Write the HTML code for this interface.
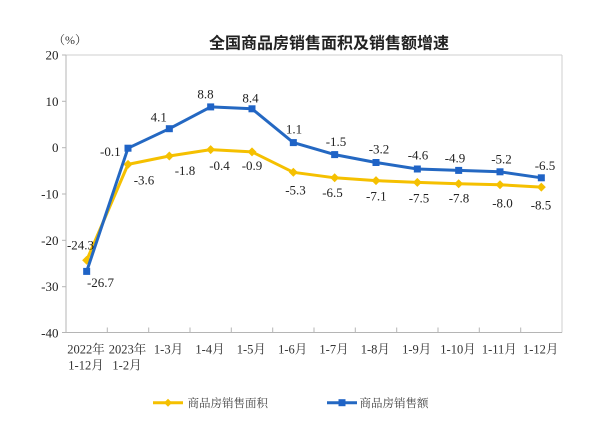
<!DOCTYPE html>
<html>
<head>
<meta charset="utf-8">
<style>
  html,body{margin:0;padding:0;background:#fff;}
  svg{display:block;}
  .num{font-family:"Liberation Serif","Noto Serif CJK SC",serif;font-size:13px;fill:#222;}
  .ax{font-family:"Liberation Serif","Noto Serif CJK SC",serif;font-size:13px;fill:#222;}
  .xl{font-family:"Liberation Serif","Noto Serif CJK SC",serif;font-size:12.5px;fill:#333;}
  .lg{font-family:"Liberation Serif","Noto Serif CJK SC",serif;font-size:11.5px;fill:#444;}
</style>
</head>
<body>
<svg width="600" height="435" viewBox="0 0 600 435" xmlns="http://www.w3.org/2000/svg">
  <rect width="600" height="435" fill="#fff"/>
  <!-- title -->
  <text x="329" y="48.5" text-anchor="middle" font-family="'Noto Sans CJK SC','WenQuanYi Zen Hei',sans-serif" font-weight="bold" font-size="16px" fill="#222">全国商品房销售面积及销售额增速</text>
  <text x="53" y="44" font-family="'Liberation Serif','Noto Serif CJK SC',serif" font-size="12px" fill="#333">（%）</text>

  <!-- plot frame -->
  <line x1="66" y1="55" x2="562" y2="55" stroke="#cfcfcf" stroke-width="1"/>
  <line x1="562" y1="55" x2="562" y2="332.5" stroke="#cfcfcf" stroke-width="1"/>
  <line x1="66" y1="55" x2="66" y2="332.5" stroke="#b5b5b5" stroke-width="1"/>
  <line x1="66" y1="332.5" x2="562" y2="332.5" stroke="#b5b5b5" stroke-width="1"/>

  <!-- y ticks -->
  <g stroke="#b5b5b5" stroke-width="1">
    <line x1="62" y1="55" x2="66" y2="55"/>
    <line x1="62" y1="101.3" x2="66" y2="101.3"/>
    <line x1="62" y1="147.7" x2="66" y2="147.7"/>
    <line x1="62" y1="194" x2="66" y2="194"/>
    <line x1="62" y1="240.3" x2="66" y2="240.3"/>
    <line x1="62" y1="286.7" x2="66" y2="286.7"/>
    <line x1="62" y1="332.5" x2="66" y2="332.5"/>
  </g>
  <g class="ax" text-anchor="end">
    <text x="58.5" y="59.5">20</text>
    <text x="58.5" y="105.8">10</text>
    <text x="58.5" y="152.2">0</text>
    <text x="58.5" y="198.5">-10</text>
    <text x="58.5" y="244.8">-20</text>
    <text x="58.5" y="291.2">-30</text>
    <text x="58.5" y="337.5">-40</text>
  </g>

  <!-- x ticks -->
  <g stroke="#b5b5b5" stroke-width="1">
    <line x1="107.3" y1="327.5" x2="107.3" y2="332.5"/>
    <line x1="148.7" y1="327.5" x2="148.7" y2="332.5"/>
    <line x1="190" y1="327.5" x2="190" y2="332.5"/>
    <line x1="231.3" y1="327.5" x2="231.3" y2="332.5"/>
    <line x1="272.7" y1="327.5" x2="272.7" y2="332.5"/>
    <line x1="314" y1="327.5" x2="314" y2="332.5"/>
    <line x1="355.3" y1="327.5" x2="355.3" y2="332.5"/>
    <line x1="396.7" y1="327.5" x2="396.7" y2="332.5"/>
    <line x1="438" y1="327.5" x2="438" y2="332.5"/>
    <line x1="479.3" y1="327.5" x2="479.3" y2="332.5"/>
    <line x1="520.7" y1="327.5" x2="520.7" y2="332.5"/>
  </g>
  <g class="xl" text-anchor="middle">
    <text x="86" y="353.5">2022年</text>
    <text x="86" y="369.5">1-12月</text>
    <text x="127.5" y="353.5">2023年</text>
    <text x="127" y="369.5">1-2月</text>
    <text x="168.5" y="353.5">1-3月</text>
    <text x="210" y="353.5">1-4月</text>
    <text x="251.3" y="353.5">1-5月</text>
    <text x="292.7" y="353.5">1-6月</text>
    <text x="334" y="353.5">1-7月</text>
    <text x="375.3" y="353.5">1-8月</text>
    <text x="416.7" y="353.5">1-9月</text>
    <text x="458" y="353.5">1-10月</text>
    <text x="499.3" y="353.5">1-11月</text>
    <text x="540.7" y="353.5">1-12月</text>
  </g>

  <!-- yellow series -->
  <polyline fill="none" stroke="#f5c000" stroke-width="3" stroke-linejoin="round"
    points="86.67,260.3 128,164.4 169.33,156.0 210.67,149.6 252,151.9 293.33,172.3 334.67,177.8 376,180.6 417.33,182.4 458.67,183.8 500,184.8 541.33,187.1"/>
  <g fill="#f5c000">
    <polygon points="86.67,255.8 91.17,260.3 86.67,264.8 82.17,260.3"/>
    <polygon points="128,159.9 132.5,164.4 128,168.9 123.5,164.4"/>
    <polygon points="169.33,151.5 173.83,156 169.33,160.5 164.83,156"/>
    <polygon points="210.67,145.1 215.17,149.6 210.67,154.1 206.17,149.6"/>
    <polygon points="252,147.4 256.5,151.9 252,156.4 247.5,151.9"/>
    <polygon points="293.33,167.8 297.83,172.3 293.33,176.8 288.83,172.3"/>
    <polygon points="334.67,173.3 339.17,177.8 334.67,182.3 330.17,177.8"/>
    <polygon points="376,176.1 380.5,180.6 376,185.1 371.5,180.6"/>
    <polygon points="417.33,177.9 421.83,182.4 417.33,186.9 412.83,182.4"/>
    <polygon points="458.67,179.3 463.17,183.8 458.67,188.3 454.17,183.8"/>
    <polygon points="500,180.3 504.5,184.8 500,189.3 495.5,184.8"/>
    <polygon points="541.33,182.6 545.83,187.1 541.33,191.6 536.83,187.1"/>
  </g>

  <!-- blue series -->
  <polyline fill="none" stroke="#2468c2" stroke-width="3" stroke-linejoin="round"
    points="86.67,271.4 128,148.2 169.33,128.7 210.67,106.9 252,108.8 293.33,142.6 334.67,154.6 376,162.5 417.33,169.0 458.67,170.4 500,171.8 541.33,177.8"/>
  <g fill="#1f63c6">
    <rect x="83.17" y="267.9" width="7" height="7"/>
    <rect x="124.5" y="144.7" width="7" height="7"/>
    <rect x="165.83" y="125.2" width="7" height="7"/>
    <rect x="207.17" y="103.4" width="7" height="7"/>
    <rect x="248.5" y="105.3" width="7" height="7"/>
    <rect x="289.83" y="139.1" width="7" height="7"/>
    <rect x="331.17" y="151.1" width="7" height="7"/>
    <rect x="372.5" y="159" width="7" height="7"/>
    <rect x="413.83" y="165.5" width="7" height="7"/>
    <rect x="455.17" y="166.9" width="7" height="7"/>
    <rect x="496.5" y="168.3" width="7" height="7"/>
    <rect x="537.83" y="174.3" width="7" height="7"/>
  </g>

  <!-- blue labels -->
  <g class="num" text-anchor="middle">
    <text x="100.5" y="287">-26.7</text>
    <text x="110.3" y="156">-0.1</text>
    <text x="158.8" y="121.6">4.1</text>
    <text x="205.5" y="98.6">8.8</text>
    <text x="250.5" y="102.6">8.4</text>
    <text x="294" y="133.6">1.1</text>
    <text x="336" y="146">-1.5</text>
    <text x="379" y="153.3">-3.2</text>
    <text x="418" y="159.3">-4.6</text>
    <text x="455" y="162.6">-4.9</text>
    <text x="501.5" y="163.6">-5.2</text>
    <text x="545" y="170">-6.5</text>
  </g>
  <!-- yellow labels -->
  <g class="num" text-anchor="middle">
    <text x="80.5" y="249.5">-24.3</text>
    <text x="144" y="184.3">-3.6</text>
    <text x="185" y="175">-1.8</text>
    <text x="219.5" y="170">-0.4</text>
    <text x="252" y="170">-0.9</text>
    <text x="295.5" y="194.3">-5.3</text>
    <text x="332.5" y="197">-6.5</text>
    <text x="376.3" y="200.3">-7.1</text>
    <text x="419" y="202.6">-7.5</text>
    <text x="459" y="202.6">-7.8</text>
    <text x="502.5" y="207.6">-8.0</text>
    <text x="541" y="209.3">-8.5</text>
  </g>

  <!-- legend -->
  <line x1="153" y1="402.7" x2="183" y2="402.7" stroke="#f5c000" stroke-width="3"/>
  <polygon points="168,398.7 172,402.7 168,406.7 164,402.7" fill="#f5c000"/>
  <text class="lg" x="187.5" y="407">商品房销售面积</text>
  <line x1="327" y1="402.7" x2="357" y2="402.7" stroke="#2468c2" stroke-width="3"/>
  <rect x="338.5" y="399.2" width="7" height="7" fill="#1f63c6"/>
  <text class="lg" x="359.5" y="407">商品房销售额</text>
</svg>
</body>
</html>
